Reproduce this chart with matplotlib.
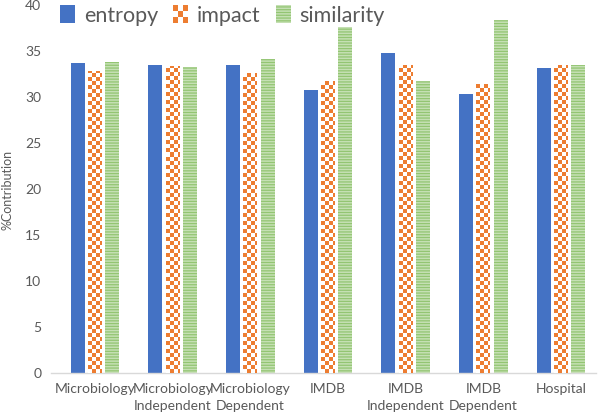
"""Bar chart of %contribution for entropy, impact and similarity per dataset."""

import matplotlib
matplotlib.use('Agg')
import matplotlib.pyplot as plt
import numpy as np
from matplotlib.colors import ListedColormap
from matplotlib.legend_handler import HandlerBase
from matplotlib.patches import Patch, Rectangle

# Data
datasets = ['Microbiology', 'Microbiology\nIndependent', 'Microbiology\nDependent',
            'IMDB', 'IMDB\nIndependent', 'IMDB\nDependent', 'Hospital']
entropy = [33.65, 33.45, 33.45, 30.8, 34.8, 30.35, 33.15]
impact = [32.8, 33.4, 32.6, 31.7, 33.5, 31.45, 33.5]
similarity = [33.75, 33.3, 34.1, 37.6, 31.7, 38.4, 33.5]
series_names = ['entropy', 'impact', 'similarity']
y_ticks = [0, 5, 10, 15, 20, 25, 30, 35, 40]

BLUE = '#4472C4'
ORANGE = '#ED7D31'
GREEN_FACE = '#C5E0B4'
GREEN_LINE = '#93C572'
TEXT = '#595959'

plt.rcParams['font.family'] = ['Lato', 'DejaVu Sans']
plt.rcParams['hatch.linewidth'] = 0.9


def _checker_fill(ax, bar, sx, sy):
    """Fill a bar with an orange/white checkerboard clipped to its shape."""
    x0, w, h = bar.get_x(), bar.get_width(), bar.get_height()
    ncols = int(np.ceil(w / sx))
    nrows = int(np.ceil(h / sy))
    grid = (np.add.outer(np.arange(nrows), np.arange(ncols)) % 2).astype(float)
    im = ax.imshow(grid, cmap=ListedColormap(['white', ORANGE]), origin='lower',
                   extent=(x0, x0 + ncols * sx, 0, nrows * sy),
                   aspect='auto', interpolation='nearest', zorder=3)
    im.set_clip_path(bar)


class CheckerHandler(HandlerBase):
    """Legend handle drawn as a small checkerboard."""

    def create_artists(self, legend, orig_handle, xdescent, ydescent,
                       width, height, fontsize, trans):
        n = 3
        cw, ch = width / n, height / n
        arts = []
        for i in range(n):
            for j in range(n):
                if (i + j) % 2 == 0:
                    arts.append(Rectangle((-xdescent + i * cw, -ydescent + j * ch), cw, ch,
                                          facecolor=ORANGE, edgecolor='none', transform=trans))
        return arts


fig = plt.figure(figsize=(6, 4.15), dpi=100)
ax = fig.add_axes([51 / 600, 42 / 415, 545 / 600, 368 / 415])

x = np.arange(len(datasets))
width = 0.18
offset = 0.222

ax.bar(x - offset, entropy, width, color=BLUE, zorder=2)
imp_bars = ax.bar(x, impact, width, color='white', edgecolor='none', zorder=2)
ax.bar(x + offset, similarity, width, color=GREEN_FACE, edgecolor=GREEN_LINE,
       hatch='------', linewidth=0, zorder=2)

ax.set_xlim(-0.566, 6.45)
ax.set_ylim(0, 40)

# checker square about 4 px in each direction
sx = 4 / 77.67
sy = 4 / 9.2
for bar in imp_bars:
    _checker_fill(ax, bar, sx, sy)

ax.set_xlim(-0.566, 6.45)
ax.set_ylim(0, 40)
ax.set_yticks(y_ticks)
ax.set_xticks(x)
ax.set_xticklabels(datasets, fontsize=10, color=TEXT, linespacing=1.5)
ax.tick_params(axis='y', length=0, pad=7, labelsize=10, labelcolor=TEXT)
ax.tick_params(axis='x', length=0, pad=7)

for side in ['top', 'right', 'left']:
    ax.spines[side].set_visible(False)
ax.spines['bottom'].set_color('#D9D9D9')
ax.spines['bottom'].set_linewidth(1)

fig.text(8 / 600, 1 - 190 / 415, '%Contribution', rotation=90, fontsize=9,
         color=TEXT, ha='center', va='center')

handles = [Patch(facecolor=BLUE),
           Patch(facecolor=ORANGE),
           Patch(facecolor=GREEN_FACE, edgecolor=GREEN_LINE, hatch='------', linewidth=0)]
fig.legend(handles, series_names, loc='upper left', bbox_to_anchor=(58 / 600, 1 - 3 / 415),
           frameon=False, fontsize=15.5, labelcolor=TEXT, ncol=3,
           handlelength=0.7, handleheight=0.9, handletextpad=0.4,
           columnspacing=0.7, borderaxespad=0, borderpad=0.1,
           handler_map={handles[1]: CheckerHandler()})

fig.savefig('out.png', dpi=100)
